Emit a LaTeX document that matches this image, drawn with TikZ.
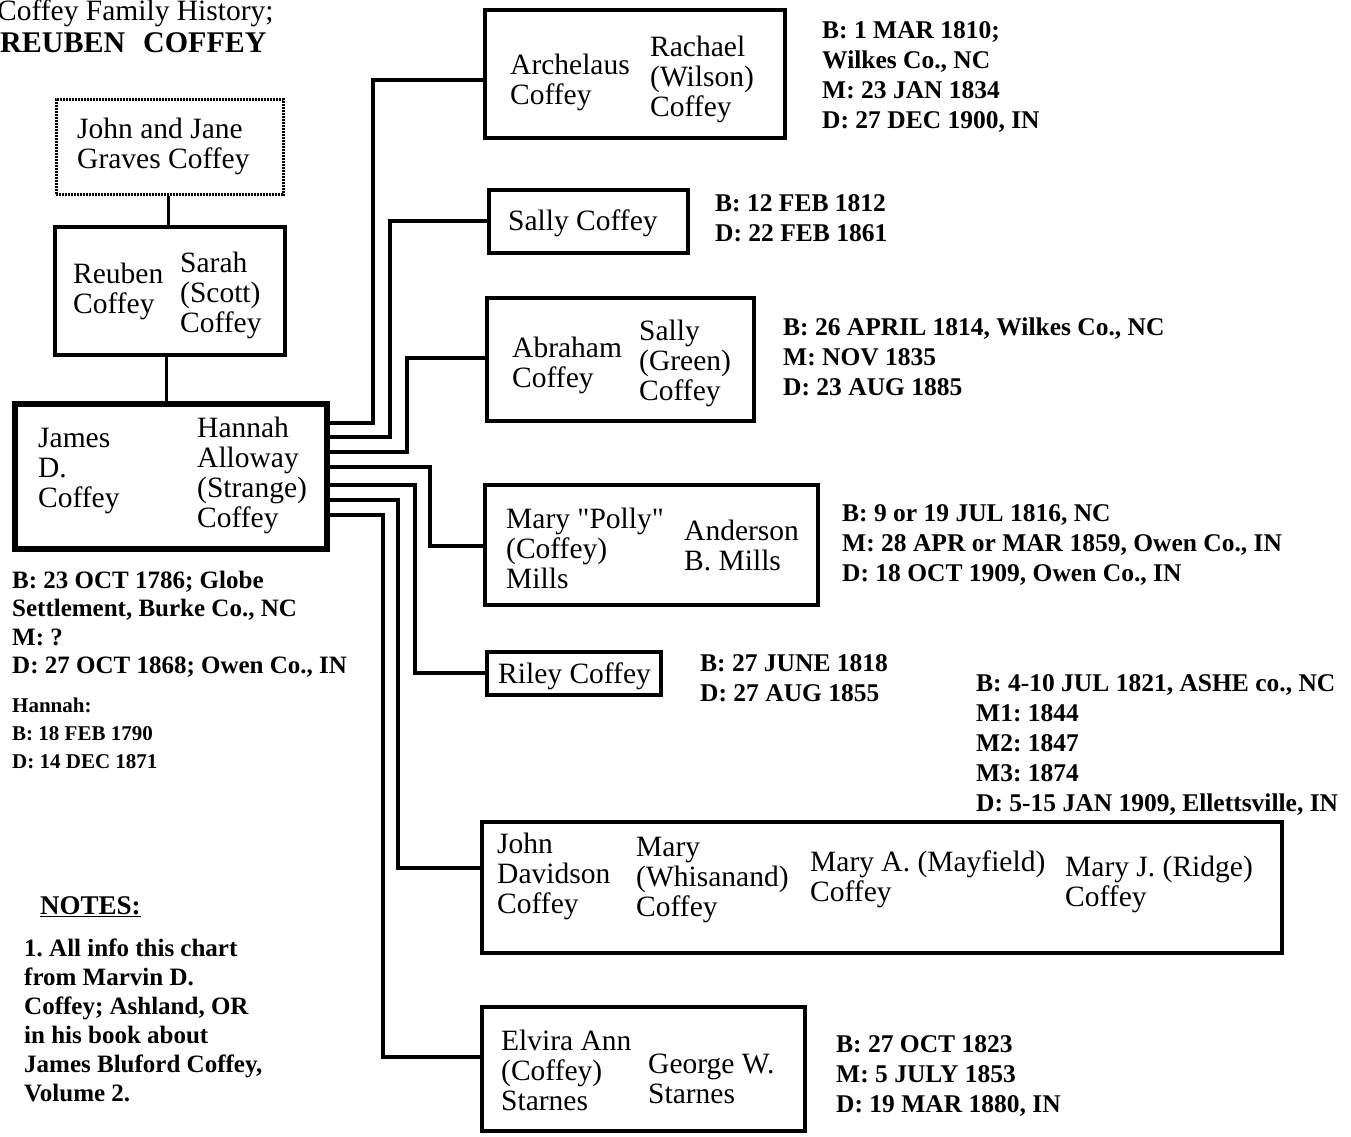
\documentclass[tikz,border=0pt]{standalone}
\usepackage{fontspec}
\setmainfont{Liberation Serif}
\newfontfamily\nqfont{Liberation Serif}[Ligatures=TeXOff]
\newcommand\stk[1]{\begin{tabular}[t]{@{}l@{}}#1\end{tabular}}
\newcommand\sq{{\nqfont\symbol{34}}}
\frenchspacing
\begin{document}
\frenchspacing
\begin{tikzpicture}[x=1pt,y=-1pt,
  box/.style={draw, line width=4pt, rectangle, inner sep=0pt},
  conn/.style={line width=4pt},
  nm/.style={anchor=base west, inner sep=0pt, font=\fontsize{29.5}{30}\selectfont},
  dt/.style={anchor=base west, inner sep=0pt, font=\fontsize{25.5}{30}\selectfont\bfseries},
  jn/.style={anchor=base west, inner sep=0pt, font=\fontsize{25}{28.5}\selectfont\bfseries},
  hn/.style={anchor=base west, inner sep=0pt, font=\fontsize{21}{28}\selectfont\bfseries},
  nt/.style={anchor=base west, inner sep=0pt, font=\fontsize{25}{29}\selectfont\bfseries},
]
\fill[white] (0,0) rectangle (1351,1136);
\useasboundingbox (0,0) rectangle (1351,1136);

% title
\node[anchor=base west, inner sep=0pt, font=\fontsize{29.5}{30}\selectfont] (t1) at (-3,20) {Coffey Family History;};
\node[anchor=base west, inner sep=0pt, font=\fontsize{30}{30}\selectfont\bfseries] (t2) at (0,52) {REUBEN\hspace{18pt}COFFEY};

% ancestor boxes
\node[box, line width=3pt, dash pattern=on 2.2pt off 0.8pt, minimum width=227pt, minimum height=95pt] (jj) at (169.5,146.5) {};
\node[box, line width=3.5pt, minimum width=230pt, minimum height=128pt] (reuben) at (170,291) {};
\node[box, line width=6pt, minimum width=312pt, minimum height=145pt] (james) at (171,476.5) {};

\draw[conn, line width=3pt] (jj.south -| 168,0) -- (reuben.north -| 168,0);
\draw[conn, line width=3pt] (reuben.south -| 166,0) -- (james.north -| 166,0);

\node[nm] (jjt) at (77,138) {\stk{John and Jane\\Graves Coffey}};
\node[nm] (reubt) at (73,283) {\stk{Reuben\\Coffey}};
\node[nm] (sarat) at (180,272) {\stk{Sarah\\(Scott)\\Coffey}};
\node[nm] (jamt) at (38,447) {\stk{James\\D.\\Coffey}};
\node[nm] (hant) at (197,437) {\stk{Hannah\\Alloway\\(Strange)\\Coffey}};

% children boxes
\node[box, minimum width=300pt, minimum height=128pt] (arch) at (635,74) {};
\node[box, minimum width=199pt, minimum height=63pt] (sally) at (588.5,221.5) {};
\node[box, minimum width=267pt, minimum height=123pt] (abra) at (620.5,359.5) {};
\node[box, minimum width=333pt, minimum height=120pt] (mary) at (651.5,545) {};
\node[box, minimum width=174pt, minimum height=43pt] (riley) at (574,673.5) {};
\node[box, minimum width=800pt, minimum height=131pt] (johnd) at (882,887.5) {};
\node[box, minimum width=323pt, minimum height=124pt] (elvira) at (643.5,1069) {};

% connectors
\draw[conn] (james.east |- 0,423) -| (373,80) -- (arch.west |- 0,80);
\draw[conn] (james.east |- 0,437) -| (390,221) -- (sally.west |- 0,221);
\draw[conn] (james.east |- 0,452) -| (407,358) -- (abra.west |- 0,358);
\draw[conn] (james.east |- 0,467) -| (430,546) -- (mary.west |- 0,546);
\draw[conn] (james.east |- 0,485) -| (415,673) -- (riley.west |- 0,673);
\draw[conn] (james.east |- 0,500) -| (398,868) -- (johnd.west |- 0,868);
\draw[conn] (james.east |- 0,515) -| (383,1057) -- (elvira.west |- 0,1057);

% names in children boxes
\node[nm] (archt) at (510,74) {\stk{Archelaus\\Coffey}};
\node[nm] (racht) at (650,56) {\stk{Rachael\\(Wilson)\\Coffey}};
\node[nm] (sallyt) at (508,230) {Sally Coffey};
\node[nm] (abrat) at (512,357) {\stk{Abraham\\Coffey}};
\node[nm] (sgreent) at (639,340) {\stk{Sally\\(Green)\\Coffey}};
\node[nm] (maryt) at (506,528) {\stk{Mary \sq Polly\sq\\(Coffey)\\Mills}};
\node[nm] (andt) at (684,540) {\stk{Anderson\\B. Mills}};
\node[nm] (rileyt) at (498,683) {Riley Coffey};
\node[nm] (johndt) at (497,853) {\stk{John\\Davidson\\Coffey}};
\node[nm] (marywt) at (636,856) {\stk{Mary\\(Whisanand)\\Coffey}};
\node[nm] (maryat) at (810,871) {\stk{Mary A. (Mayfield)\\Coffey}};
\node[nm] (maryjt) at (1065,876) {\stk{Mary J. (Ridge)\\Coffey}};
\node[nm] (elvirat) at (501,1050) {\stk{Elvira Ann\\(Coffey)\\Starnes}};
\node[nm] (georget) at (648,1073) {\stk{George W.\\Starnes}};

% dates
\node[dt] (archd) at (822,38) {\stk{B: 1 MAR 1810;\\Wilkes Co., NC\\M: 23 JAN 1834\\D: 27 DEC 1900, IN}};
\node[dt] (sallyd) at (715,211) {\stk{B: 12 FEB 1812\\D: 22 FEB 1861}};
\node[dt] (abrad) at (783,335) {\stk{B: 26 APRIL 1814, Wilkes Co., NC\\M: NOV 1835\\D: 23 AUG 1885}};
\node[dt] (maryd) at (842,521) {\stk{B: 9 or 19 JUL 1816, NC\\M: 28 APR or MAR 1859, Owen Co., IN\\D: 18 OCT 1909, Owen Co., IN}};
\node[dt] (rileyd) at (700,671) {\stk{B: 27 JUNE 1818\\D: 27 AUG 1855}};
\node[dt] (johndd) at (976,691) {\stk{B: 4-10 JUL 1821, ASHE co., NC\\M1: 1844\\M2: 1847\\M3: 1874\\D: 5-15 JAN 1909, Ellettsville, IN}};
\node[dt] (elvirad) at (836,1052) {\stk{B: 27 OCT 1823\\M: 5 JULY 1853\\D: 19 MAR 1880, IN}};

% James notes
\node[jn] (jamesd) at (12,588) {\stk{B: 23 OCT 1786; Globe\\Settlement, Burke Co., NC\\M: ?\\D: 27 OCT 1868; Owen Co., IN}};
\node[hn] (hannahd) at (12,712) {\stk{Hannah:\\B: 18 FEB 1790\\D: 14 DEC 1871}};

% notes
\node[anchor=base west, inner sep=0pt, font=\fontsize{27}{29}\selectfont\bfseries] (notesh) at (40,914) {\underline{NOTES:}};
\node[nt] (notes) at (24,956) {\stk{1. All info this chart\\from Marvin D.\\Coffey; Ashland, OR\\in his book about\\James Bluford Coffey,\\Volume 2.}};
\end{tikzpicture}
\end{document}
